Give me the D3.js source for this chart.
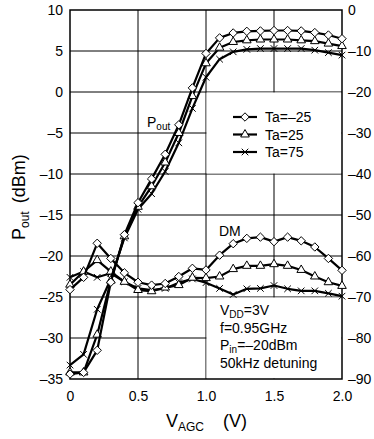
<!DOCTYPE html>
<html>
<head>
<meta charset="utf-8">
<script src="https://cdn.jsdelivr.net/npm/d3@7"></script>
<style>
  body { margin: 0; background: #fff; }
  text { font-family: "Liberation Sans", Arial, sans-serif; fill: #000; }
</style>
</head>
<body>
<svg id="chart" width="374" height="439"></svg>
<script>
// supply voltage V_AGC (V)
const vagc = [0, 0.1, 0.2, 0.3, 0.4, 0.5, 0.6, 0.7, 0.8, 0.9, 1.0,
              1.1, 1.2, 1.3, 1.4, 1.5, 1.6, 1.7, 1.8, 1.9, 2.0];

// Pout (dBm), left axis
const poutM25 = [-34.4, -34.2, -31.5, -23.2, -17.4, -13.5, -10.6, -7.6, -4.0, 0.5, 4.7,
                 6.6, 7.2, 7.4, 7.45, 7.5, 7.5, 7.45, 7.25, 6.95, 6.5];
const pout25  = [-34.2, -34.2, -29.6, -23.0, -17.6, -14.0, -11.5, -8.6, -5.0, -0.5, 3.5,
                 5.4, 6.1, 6.3, 6.4, 6.4, 6.4, 6.3, 6.2, 5.9, 5.6];
const pout75  = [-33.3, -32.0, -26.5, -22.8, -17.8, -14.3, -12.4, -9.7, -6.2, -2.0, 1.8,
                 4.0, 4.9, 5.2, 5.3, 5.3, 5.3, 5.3, 5.1, 4.8, 4.5];

// DM (right axis)
const dmM25 = [-68.2, -65.2, -56.9, -60.6, -64.1, -66.4, -67.1, -66.7, -65.0, -63.0, -63.4,
               -59.8, -57.0, -55.7, -55.4, -56.5, -55.4, -56.3, -57.8, -60.6, -63.5];
const dm25  = [-67.0, -63.8, -61.0, -63.8, -66.3, -68.3, -68.6, -67.7, -67.1, -65.3, -65.4,
               -65.0, -63.2, -62.4, -62.4, -62.0, -62.4, -63.4, -65.0, -66.4, -67.3];
const dm75  = [-65.2, -63.8, -65.2, -64.2, -66.3, -67.9, -68.3, -67.9, -66.5, -65.6, -66.5,
               -67.9, -69.4, -68.0, -67.9, -67.2, -68.0, -68.5, -68.5, -69.1, -69.8];

const xTicks = [0, 0.5, 1.0, 1.5, 2.0];
const xTickLabels = ["0", "0.5", "1.0", "1.5", "2.0"];
const leftTicks = [10, 5, 0, -5, -10, -15, -20, -25, -30, -35];
const rightTicks = [0, -10, -20, -30, -40, -50, -60, -70, -80, -90];
const legendLabels = ["Ta=\u201325", "Ta=25", "Ta=75"];
const notes = [["V", "DD", "=3V"], ["f=0.95GHz", "", ""], ["P", "in", "=\u201320dBm"], ["50kHz detuning", "", ""]];

const svg = d3.select("#chart");
const mLeft = 70, mRight = 342, mTop = 10, mBottom = 379;

const x = d3.scaleLinear().domain([0, 2]).range([mLeft, mRight]);
const yL = d3.scaleLinear().domain([-35, 10]).range([mBottom, mTop]);
const yR = d3.scaleLinear().domain([-90, 0]).range([mBottom, mTop]);
const dash = v => String(v).replace("-", "\u2013");

// grid
const grid = svg.append("g").attr("stroke", "#000").attr("stroke-width", 1);
grid.selectAll(".gx").data(xTicks.slice(1, -1)).join("line")
  .attr("x1", d => x(d)).attr("x2", d => x(d))
  .attr("y1", mTop).attr("y2", mBottom);
grid.selectAll(".gy").data(leftTicks.slice(1, -1)).join("line")
  .attr("x1", mLeft).attr("x2", mRight)
  .attr("y1", d => yL(d)).attr("y2", d => yL(d));

// white boxes for legend and notes
svg.append("rect").attr("x", x(1.0) + 0.5).attr("y", yL(0) + 0.5)
  .attr("width", x(2.0) - x(1.0) - 1).attr("height", yL(-10) - yL(0) - 1).attr("fill", "#fff");
svg.append("rect").attr("x", x(1.0) + 0.5).attr("y", yL(-25) + 0.5)
  .attr("width", x(2.0) - x(1.0) - 1).attr("height", yL(-35) - yL(-25) - 1).attr("fill", "#fff");

svg.append("rect").attr("x", mLeft).attr("y", mTop)
  .attr("width", mRight - mLeft).attr("height", mBottom - mTop)
  .attr("fill", "none").attr("stroke", "#000").attr("stroke-width", 1.5);

// axes
const axL = svg.append("g").attr("transform", `translate(${mLeft},0)`)
  .call(d3.axisLeft(yL).tickValues(leftTicks).tickSize(0).tickPadding(7).tickFormat(dash));
const axR = svg.append("g").attr("transform", `translate(${mRight},0)`)
  .call(d3.axisRight(yR).tickValues(rightTicks).tickSize(0).tickPadding(6).tickFormat(dash));
const axB = svg.append("g").attr("transform", `translate(0,${mBottom})`)
  .call(d3.axisBottom(x).tickValues(xTicks).tickSize(0).tickPadding(12)
    .tickFormat((d, i) => xTickLabels[i]));
[axL, axR, axB].forEach(a => {
  a.select(".domain").remove();
  a.selectAll("text").attr("font-size", 14).attr("font-family", "Liberation Sans, Arial, sans-serif");
});

// symbols
const diamond = "M0,-4.2L4.2,0L0,4.2L-4.2,0Z";
const tri = d3.symbol(d3.symbolTriangle, 32)();
const cross = d3.symbol(d3.symbolTimes, 30)();
const markers = [diamond, tri, cross];

function drawSeries(vals, yScale, mk) {
  const line = d3.line().x((d, i) => x(vagc[i])).y(d => yScale(d));
  svg.append("path").datum(vals).attr("d", line)
    .attr("fill", "none").attr("stroke", "#000").attr("stroke-width", 2.2)
    .attr("stroke-linejoin", "round");
  svg.append("g").selectAll("path").data(vals).join("path")
    .attr("transform", (d, i) => `translate(${x(vagc[i])},${yScale(d)})`)
    .attr("d", markers[mk])
    .attr("fill", mk === 2 ? "none" : "#fff")
    .attr("stroke", "#000").attr("stroke-width", 1);
}

drawSeries(dm75, yR, 2);
drawSeries(dm25, yR, 1);
drawSeries(dmM25, yR, 0);
drawSeries(pout75, yL, 2);
drawSeries(pout25, yL, 1);
drawSeries(poutM25, yL, 0);

// legend
const lg = svg.append("g");
legendLabels.forEach((lab, i) => {
  const ly = 117 + i * 17.5;
  lg.append("line").attr("x1", 233).attr("x2", 257).attr("y1", ly).attr("y2", ly)
    .attr("stroke", "#000").attr("stroke-width", 2.2);
  lg.append("path").attr("transform", `translate(245,${ly})`).attr("d", markers[i])
    .attr("fill", i === 2 ? "none" : "#fff").attr("stroke", "#000").attr("stroke-width", 1);
  lg.append("text").attr("x", 265).attr("y", ly + 5).attr("font-size", 14).text(lab);
});

// labels
const pl = svg.append("text").attr("x", 147).attr("y", 127).attr("font-size", 14);
pl.append("tspan").text("P");
pl.append("tspan").attr("font-size", 10).attr("dy", 3).text("out");
svg.append("text").attr("x", 219).attr("y", 236).attr("font-size", 14).text("DM");

notes.forEach((n, i) => {
  const t = svg.append("text").attr("x", 220).attr("y", 315 + i * 17.7).attr("font-size", 14);
  t.append("tspan").text(n[0]);
  if (n[1]) {
    t.append("tspan").attr("font-size", 10).attr("dy", 3).text(n[1]);
    t.append("tspan").attr("dy", -3).text(n[2]);
  }
});

// axis titles
const xt = svg.append("text").attr("x", 166).attr("y", 427).attr("font-size", 18);
xt.append("tspan").text("V");
xt.append("tspan").attr("font-size", 12).attr("dy", 4).text("AGC");
xt.append("tspan").attr("dy", -4).attr("x", 223).text("(V)");

const yt = svg.append("text").attr("transform", "translate(25,240) rotate(-90)").attr("font-size", 18);
yt.append("tspan").text("P");
yt.append("tspan").attr("font-size", 12).attr("dy", 4).text("out");
yt.append("tspan").attr("dy", -4).attr("dx", 8).text("(dBm)");
</script>
</body>
</html>
